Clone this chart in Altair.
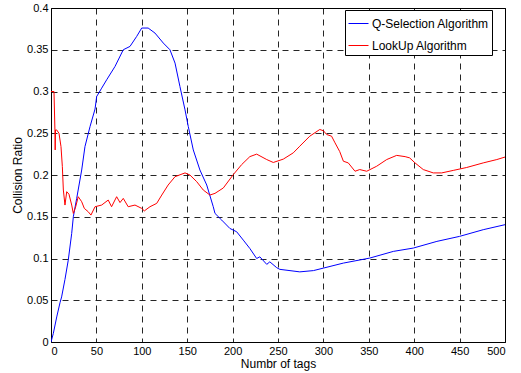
import altair as alt
import pandas as pd

# Q-Selection Algorithm (blue)
qsel_x = [0, 2.5, 6.3, 9.9, 11.7, 15.4, 19, 22.8, 24.6, 28.3, 33.8, 37.4, 43, 48.5, 50.3,
          55.8, 61.3, 70.5, 79.6, 87, 94.4, 99.9, 107, 114.5, 123.7, 131, 136.6, 142,
          147.6, 151.2, 156.7, 164, 171.5, 178.7, 180.6, 188, 197, 204.5, 211.8, 219,
          226.5, 230, 237.6, 241, 248.6, 252, 274, 289, 300, 322, 351, 377, 399, 425,
          450, 476, 500]
qsel_y = [0, 0.010, 0.030, 0.047, 0.054, 0.075, 0.098, 0.130, 0.150, 0.172, 0.206, 0.234,
          0.258, 0.279, 0.294, 0.304, 0.314, 0.330, 0.350, 0.354, 0.366, 0.376, 0.376,
          0.370, 0.358, 0.350, 0.334, 0.306, 0.278, 0.258, 0.230, 0.206, 0.188, 0.162,
          0.154, 0.146, 0.136, 0.132, 0.122, 0.112, 0.100, 0.102, 0.093, 0.096, 0.089,
          0.087, 0.084, 0.0855, 0.0885, 0.0945, 0.1005, 0.1085, 0.1125, 0.1205, 0.1265,
          0.1345, 0.1405]

# LookUp Algorithm (red)
lookup_x = [0, 3.3, 4.3, 4.6, 5, 6.2, 8.8, 11, 12.5, 13.6, 15.4, 17.3, 19.8, 22.8, 24.6,
            27.2, 30, 33.8, 36.7, 41, 44, 48.5, 55.8, 63, 66.7, 72.3, 76, 79.6, 85, 92.5,
            99.9, 102.8, 109, 116.4, 122, 129, 136.6, 147.6, 153, 160.5, 167.7, 175,
            180.6, 189.8, 200.8, 210, 219, 226.5, 237.6, 244.8, 255.8, 266.8, 274, 285,
            296, 300, 303.6, 309, 312.8, 318, 322, 327.4, 334.8, 340, 347.7, 358.7,
            369.7, 380.7, 390, 395, 400.9, 410, 421, 430.3, 443, 457.8, 476, 491, 500]
lookup_y = [0.300, 0.300, 0.255, 0.230, 0.254, 0.254, 0.250, 0.234, 0.210, 0.182, 0.164,
            0.180, 0.177, 0.164, 0.154, 0.162, 0.174, 0.168, 0.160, 0.156, 0.152, 0.162,
            0.164, 0.170, 0.162, 0.174, 0.167, 0.172, 0.162, 0.164, 0.160, 0.157, 0.162,
            0.166, 0.176, 0.188, 0.198, 0.2025, 0.200, 0.192, 0.182, 0.176, 0.178,
            0.1845, 0.2005, 0.2125, 0.222, 0.225, 0.2185, 0.215, 0.219, 0.2265, 0.2345,
            0.2465, 0.2545, 0.253, 0.2485, 0.2465, 0.2385, 0.228, 0.2165, 0.2145, 0.2045,
            0.2065, 0.2045, 0.2105, 0.2185, 0.2235, 0.222, 0.2205, 0.2145, 0.2065, 0.2025,
            0.2025, 0.2055, 0.209, 0.2145, 0.2185, 0.2215]

series_names = ["Q-Selection Algorithm", "LookUp Algorithm"]
series_colors = ["#0000ff", "#ff0000"]
x_ticks = [0, 50, 100, 150, 200, 250, 300, 350, 400, 450, 500]
y_ticks = [0, 0.05, 0.1, 0.15, 0.2, 0.25, 0.3, 0.35, 0.4]

rows = []
for i, (xv, yv) in enumerate(zip(qsel_x, qsel_y)):
    rows.append({"series": series_names[0], "x": xv, "y": yv, "i": i})
for i, (xv, yv) in enumerate(zip(lookup_x, lookup_y)):
    rows.append({"series": series_names[1], "x": xv, "y": yv, "i": i})
df = pd.DataFrame(rows)

FONT = "Liberation Sans"

chart = alt.Chart(df).mark_line(strokeWidth=1, clip=True).encode(
    x=alt.X("x:Q", scale=alt.Scale(domain=[0, 500], nice=False, zero=False),
            axis=alt.Axis(values=x_ticks, title="Numbr of tags", format="d")),
    y=alt.Y("y:Q", scale=alt.Scale(domain=[0, 0.4], nice=False),
            axis=alt.Axis(values=y_ticks, title="Collision Ratio",
                          labelExpr="format(datum.value, '~g')")),
    color=alt.Color("series:N",
                    scale=alt.Scale(domain=series_names, range=series_colors),
                    legend=alt.Legend(title=None, orient="none", legendX=294, legendY=2,
                                      fillColor="white", strokeColor="black",
                                      padding=3, symbolType="stroke", symbolSize=400,
                                      symbolStrokeWidth=1, labelFontSize=12,
                                      labelFont=FONT, labelColor="black",
                                      labelOffset=3, rowPadding=5, labelLimit=300)),
    order="i:Q",
).properties(
    width=454, height=334,
    autosize=alt.AutoSizeParams(type="none"),
    padding={"left": 51, "top": 8, "right": 16, "bottom": 31},
).configure_view(
    stroke="black", strokeWidth=1
).configure_axis(
    grid=True, gridColor="black", gridDash=[6, 5], gridWidth=1, gridOpacity=0.85,
    domain=False, ticks=False,
    labelFont=FONT, labelFontSize=11, labelColor="black",
    titleFont=FONT, titleFontSize=12, titleFontWeight="normal", titleColor="black",
).configure_axisX(
    labelPadding=3, titlePadding=2
).configure_axisY(
    labelPadding=3, titlePadding=2
)

chart.save("out.html", embed_options={"renderer": "svg", "actions": False})
